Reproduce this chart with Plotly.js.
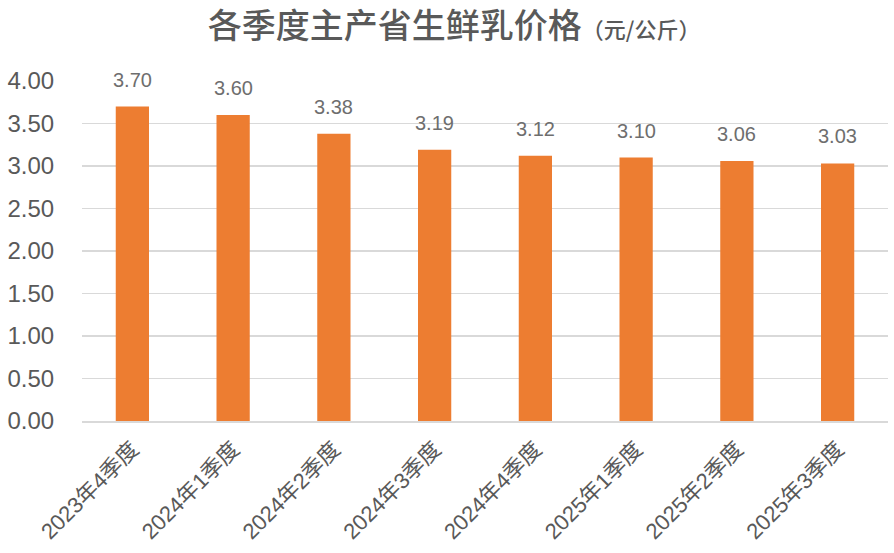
<!DOCTYPE html>
<html><head><meta charset="utf-8">
<script src="https://cdn.plot.ly/plotly-3.0.1.min.js"></script>
<style>html,body{margin:0;padding:0;background:#fff}</style>
</head><body>
<div id="chart" style="width:894px;height:553px"></div>
<script>
const categories = ["2023年4季度","2024年1季度","2024年2季度","2024年3季度","2024年4季度","2025年1季度","2025年2季度","2025年3季度"];
const prices = [3.70, 3.60, 3.38, 3.19, 3.12, 3.10, 3.06, 3.03];
const yTicks = [0, 0.5, 1, 1.5, 2, 2.5, 3, 3.5, 4];
const titleMain = "各季度主产省生鲜乳价格";
const titleUnit = "（元/公斤）";

const FONT = "Liberation Sans, Arial, Noto Sans CJK SC, sans-serif";
const trace = {
  type: "bar", x: categories, y: prices,
  marker: {color: "#ED7D31"},
  hoverinfo: "none"
};
const annotations = categories.map((c, i) => ({
  x: c, y: prices[i], xref: "x", yref: "y",
  text: prices[i].toFixed(2), showarrow: false,
  yanchor: "bottom", yshift: 14,
  font: {family: FONT, size: 20, color: "#6e6e6e"}
}));
const layout = {
  width: 894, height: 553,
  margin: {l: 82, r: 6, t: 81, b: 132},
  paper_bgcolor: "#fff", plot_bgcolor: "#fff",
  bargap: 0.67,
  showlegend: false,
  title: {
    text: titleMain + "<span style='font-size:22px'>" + titleUnit + "</span>",
    x: 0.508, xanchor: "center", y: 0.953, yanchor: "middle",
    font: {family: "Noto Sans CJK SC, sans-serif", size: 34, color: "#595959", weight: 500}
  },
  xaxis: {
    type: "category", tickangle: -45,
    tickfont: {family: FONT, size: 22, color: "#595959"},
    showline: true, linecolor: "#d9d9d9", linewidth: 1.5,
    ticks: "outside", ticklen: 5, tickcolor: "rgba(0,0,0,0)", showgrid: false
  },
  yaxis: {
    range: [0, 4], tickvals: yTicks, tickformat: ".2f",
    tickfont: {family: FONT, size: 24, color: "#595959"},
    showgrid: true, gridcolor: "#d9d9d9", gridwidth: 1.5,
    zeroline: false, showline: false,
    ticks: "outside", ticklen: 22, tickcolor: "rgba(0,0,0,0)"
  },
  annotations: annotations
};
Plotly.newPlot("chart", [trace], layout, {displayModeBar: false, staticPlot: true});
</script>
</body></html>
